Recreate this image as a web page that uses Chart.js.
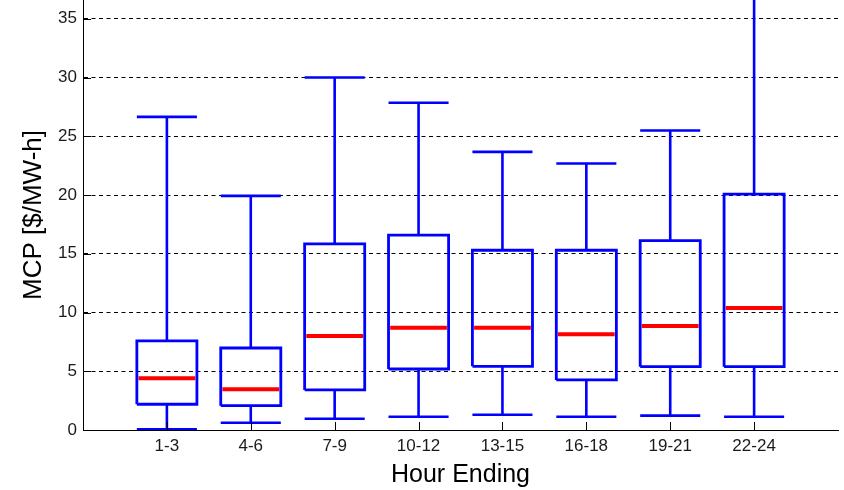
<!DOCTYPE html>
<html>
<head>
<meta charset="utf-8">
<script src="https://cdn.jsdelivr.net/npm/chart.js@4/dist/chart.umd.min.js"></script>
<style>
  html, body { margin: 0; padding: 0; background: #fff; }
  canvas { display: block; }
</style>
</head>
<body>
<canvas id="c" width="844" height="490"></canvas>
<script>
// ---- data ----
const categories = ['1-3', '4-6', '7-9', '10-12', '13-15', '16-18', '19-21', '22-24'];
const whiskerLow  = [0.05, 0.62, 0.96, 1.13, 1.30, 1.13, 1.22, 1.13];
const quartile1   = [2.19, 2.07, 3.41, 5.19, 5.42, 4.26, 5.39, 5.39];
const medians     = [4.40, 3.46, 8.00, 8.71, 8.71, 8.15, 8.86, 10.39];
const quartile3   = [7.58, 6.98, 15.84, 16.58, 15.30, 15.30, 16.12, 20.07];
const whiskerHigh = [26.65, 19.93, 30.00, 27.85, 23.67, 22.68, 25.49, 40.0];
const yTicks = [0, 5, 10, 15, 20, 25, 30, 35];

const HALF = 0.358; // half box width in category units

const boxPts = [], whiskPts = [], medPts = [];
categories.forEach((c, i) => {
  const x = i + 1;
  boxPts.push({x: x - HALF, y: quartile1[i]}, {x: x + HALF, y: quartile1[i]},
              {x: x + HALF, y: quartile3[i]}, {x: x - HALF, y: quartile3[i]},
              {x: x - HALF, y: quartile1[i]}, {x: x, y: null});
  whiskPts.push({x: x, y: quartile3[i]}, {x: x, y: whiskerHigh[i]}, {x: x, y: null},
                {x: x - HALF, y: whiskerHigh[i]}, {x: x + HALF, y: whiskerHigh[i]}, {x: x, y: null},
                {x: x, y: quartile1[i]}, {x: x, y: whiskerLow[i]}, {x: x, y: null},
                {x: x - HALF, y: whiskerLow[i]}, {x: x + HALF, y: whiskerLow[i]}, {x: x, y: null});
  medPts.push({x: x - HALF + 0.02, y: medians[i]}, {x: x + HALF - 0.02, y: medians[i]}, {x: x, y: null});
});

const FONT = "'Liberation Sans', Arial, sans-serif";

const inwardTicks = {
  id: 'inwardTicks',
  afterDraw(chart) {
    const {ctx, scales: {x, y}} = chart;
    ctx.save();
    ctx.strokeStyle = '#000';
    ctx.lineWidth = 1;
    ctx.beginPath();
    x.ticks.forEach(t => {
      const px = Math.round(x.getPixelForValue(t.value)) + 0.5;
      ctx.moveTo(px, y.bottom);
      ctx.lineTo(px, y.bottom - 8);
    });
    y.ticks.forEach(t => {
      const py = Math.round(y.getPixelForValue(t.value)) + 0.5;
      ctx.moveTo(x.left, py);
      ctx.lineTo(x.left + 8, py);
    });
    ctx.stroke();
    ctx.restore();
  }
};

new Chart(document.getElementById('c'), {
  type: 'scatter',
  data: {
    datasets: [
      {data: whiskPts, showLine: true, borderColor: '#0000ff', borderWidth: 2.6, pointRadius: 0, spanGaps: false, borderCapStyle: 'butt'},
      {data: boxPts, showLine: true, borderColor: '#0000ff', borderWidth: 2.8, pointRadius: 0, spanGaps: false, borderJoinStyle: 'miter'},
      {data: medPts, showLine: true, borderColor: '#ff0000', borderWidth: 4, pointRadius: 0, spanGaps: false, borderCapStyle: 'butt'}
    ]
  },
  options: {
    responsive: false,
    animation: false,
    devicePixelRatio: 1,
    layout: {padding: {left: 0, right: 6, top: 0, bottom: 0}},
    plugins: {legend: {display: false}, tooltip: {enabled: false}},
    scales: {
      x: {
        type: 'linear', min: 0, max: 9,
        afterBuildTicks: s => { s.ticks = categories.map((c, i) => ({value: i + 1})); },
        afterFit: s => { s.height = 60; s.paddingLeft = 0; s.paddingRight = 0; },
        ticks: {
          callback: v => categories[v - 1] || '',
          color: '#1a1a1a', font: {family: FONT, size: 17}, padding: 6,
          maxRotation: 0, autoSkip: false
        },
        grid: {display: false, drawTicks: false},
        border: {display: true, color: '#000', width: 1},
        title: {display: true, text: 'Hour Ending', color: '#000', font: {family: FONT, size: 25}, padding: {top: 0, bottom: 0}}
      },
      y: {
        type: 'linear', min: 0, max: 36.6,
        afterBuildTicks: s => { s.ticks = yTicks.map(v => ({value: v})); },
        afterFit: s => { s.width = 83; s.paddingTop = 0; s.paddingBottom = 0; },
        ticks: {color: '#1a1a1a', font: {family: FONT, size: 17}, padding: 6},
        grid: {color: '#000', lineWidth: 1, drawTicks: false},
        border: {display: true, color: '#000', width: 1, dash: [4, 3.5]},
        title: {display: true, text: 'MCP [$/MW-h]', color: '#000', font: {family: FONT, size: 26}, padding: {top: 18, bottom: 0}}
      }
    }
  },
  plugins: [inwardTicks]
});
</script>
</body>
</html>
